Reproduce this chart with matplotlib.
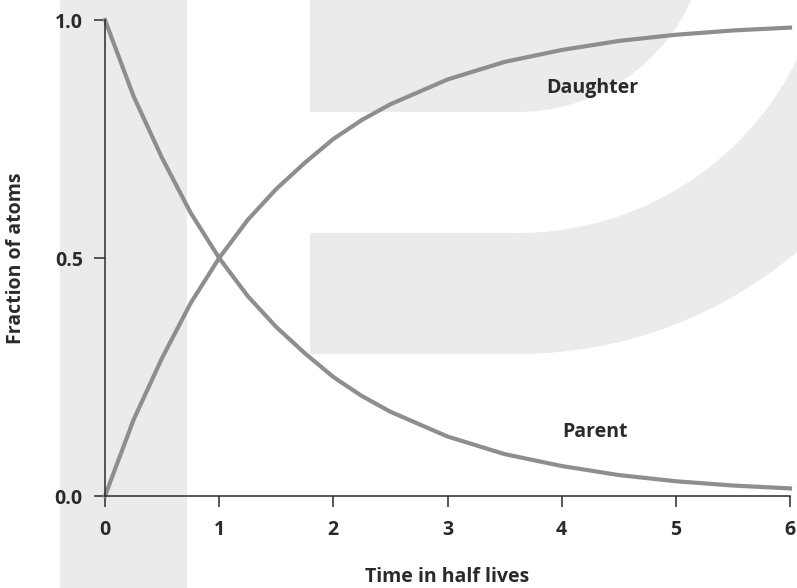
import numpy as np
import matplotlib
matplotlib.use('Agg')
import matplotlib.pyplot as plt
from matplotlib.patches import Polygon, Rectangle

# time in half lives and fraction of atoms
time = [0, 0.25, 0.5, 0.75, 1.0, 1.25, 1.5, 1.75, 2.0, 2.25, 2.5,
        3.0, 3.5, 4.0, 4.5, 5.0, 5.5, 6.0]
parent = [1.0, 0.84, 0.71, 0.595, 0.50, 0.42, 0.355, 0.30, 0.25, 0.21, 0.177,
          0.125, 0.088, 0.063, 0.044, 0.031, 0.022, 0.016]
daughter = [0.0, 0.16, 0.29, 0.405, 0.50, 0.58, 0.645, 0.70, 0.75, 0.79, 0.823,
            0.875, 0.912, 0.937, 0.956, 0.969, 0.978, 0.984]
x_ticks = [0, 1, 2, 3, 4, 5, 6]
y_ticks = [0.0, 0.5, 1.0]

TEXT = '#2b2a2b'
CURVE = '#8e8e91'
WASH = '#ebebeb'
FS = 14
plt.rcParams['font.family'] = ['Open Sans', 'DejaVu Sans']

W, H = 797, 588
fig = plt.figure(figsize=(W / 100, H / 100), dpi=100)
fig.patch.set_facecolor('white')

# faint watermark behind the plot, in pixel coordinates
bg = fig.add_axes([0, 0, 1, 1], zorder=0)
bg.set_xlim(0, W)
bg.set_ylim(H, 0)
bg.axis('off')
bg.add_patch(Rectangle((60, 0), 127, H, facecolor=WASH, edgecolor='none'))

cx, cy = 518, -78


def arc(r, x0, x1, n=80):
    xs = np.linspace(x0, x1, n)
    ys = cy + np.sqrt(np.maximum(r ** 2 - (xs - cx) ** 2, 0))
    return list(zip(xs, ys))


r1, r2, r3 = 190, 311, 432
x_end = cx + np.sqrt(r1 ** 2 - cy ** 2)
top = [(310, 0), (310, cy + r1)] + arc(r1, cx, x_end) + [(x_end, 0)]
bg.add_patch(Polygon(top, closed=True, facecolor=WASH, edgecolor='none'))
bowl = [(310, cy + r2), (310, cy + r3)] + arc(r3, cx, W) + arc(r2, cx, W)[::-1]
bg.add_patch(Polygon(bowl, closed=True, facecolor=WASH, edgecolor='none'))

ax = fig.add_axes([105 / W, (H - 496) / H, 685 / W, 476 / H], zorder=1)
ax.patch.set_alpha(0)

ax.plot(time, parent, color=CURVE, lw=3.0, clip_on=False, solid_joinstyle='round')
ax.plot(time, daughter, color=CURVE, lw=3.0, clip_on=False, solid_joinstyle='round')

ax.set_xlim(0, 6)
ax.set_ylim(0, 1)
ax.set_xticks(x_ticks)
ax.set_xticklabels([str(t) for t in x_ticks])
ax.set_yticks(y_ticks)
ax.set_yticklabels(['%.1f' % v for v in y_ticks])

for side in ['top', 'right']:
    ax.spines[side].set_visible(False)
for side in ['left', 'bottom']:
    ax.spines[side].set_color(TEXT)
    ax.spines[side].set_linewidth(1.1)

ax.tick_params(axis='both', direction='out', length=8, width=1.1, color=TEXT,
               labelcolor=TEXT, labelsize=FS)
ax.tick_params(axis='x', pad=9)
ax.tick_params(axis='y', pad=8)
for lab in ax.get_xticklabels() + ax.get_yticklabels():
    lab.set_fontweight('bold')

# axis titles placed in pixel coordinates
bg.text(447, 577, 'Time in half lives', fontsize=FS, fontweight='bold',
        color=TEXT, ha='center', va='center')
bg.text(16, 258, 'Fraction of atoms', fontsize=FS, fontweight='bold',
        color=TEXT, ha='center', va='center', rotation=90)

ax.text(4.27, 0.857, 'Daughter', fontsize=FS, fontweight='bold',
        color=TEXT, ha='center', va='center')
ax.text(4.29, 0.135, 'Parent', fontsize=FS, fontweight='bold',
        color=TEXT, ha='center', va='center')

fig.savefig('out.png', dpi=100)
